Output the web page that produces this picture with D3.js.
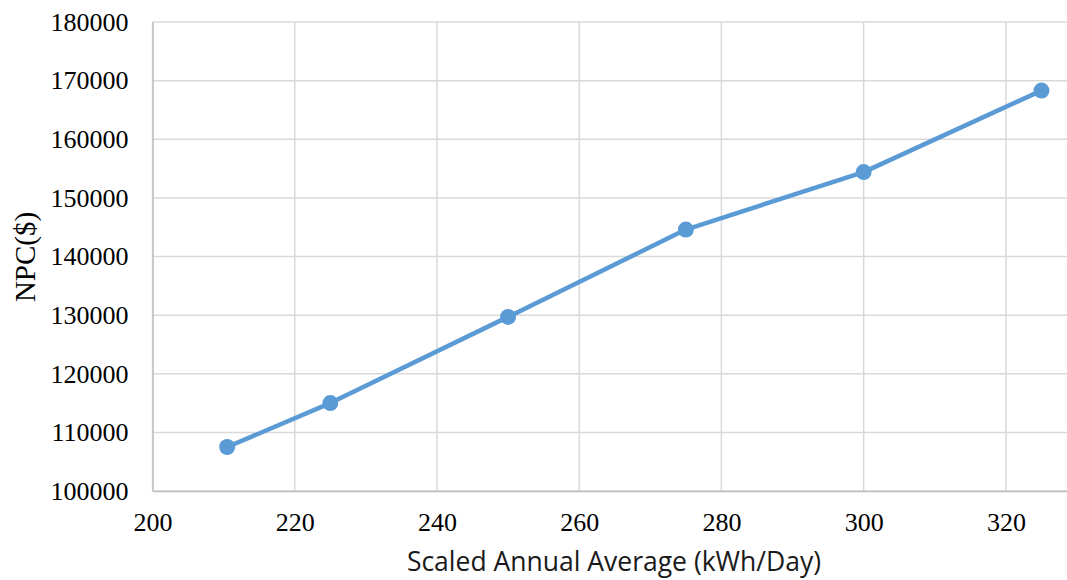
<!DOCTYPE html>
<html>
<head>
<meta charset="utf-8">
<script src="https://cdn.jsdelivr.net/npm/d3@7"></script>
<style>
  body { margin: 0; background: #fff; overflow: hidden; }
  .grid line { stroke: #d9d9d9; stroke-width: 1.5; }
  .tick text { font-family: "Liberation Serif", serif; font-size: 26px; fill: #000; }
</style>
</head>
<body>
<script>
// values
var loads = [210.5, 225, 250, 275, 300, 325];
var npc = [107500, 115000, 129700, 144600, 154400, 168300];
var xTicks = [200, 220, 240, 260, 280, 300, 320];
var yTicks = [100000, 110000, 120000, 130000, 140000, 150000, 160000, 170000, 180000];

var width = 1067, height = 580;
var margins = { top: 22, bottom: 89, left: 152.5, right: -10 };

var svg = d3.select("body").append("svg")
  .attr("width", width)
  .attr("height", height);

var xScale = d3.scaleLinear()
  .domain([200, 330])
  .range([margins.left, width - margins.right]);
var yScale = d3.scaleLinear()
  .domain([100000, 180000])
  .range([height - margins.bottom, margins.top]);

// gridlines
var grid = svg.append("g").attr("class", "grid");
grid.selectAll(".h").data(yTicks).enter().append("line")
  .attr("x1", xScale(200)).attr("x2", xScale(330))
  .attr("y1", function(d) { return yScale(d); })
  .attr("y2", function(d) { return yScale(d); });
grid.selectAll(".v").data(xTicks.concat([330])).enter().append("line")
  .attr("y1", yScale(100000)).attr("y2", yScale(180000))
  .attr("x1", function(d) { return xScale(d); })
  .attr("x2", function(d) { return xScale(d); });

// axes
var xAxis = svg.append("g")
  .attr("transform", "translate(0," + yScale(100000) + ")")
  .call(d3.axisBottom(xScale).tickValues(xTicks).tickSize(0).tickPadding(22));
xAxis.select(".domain").attr("stroke", "#bfbfbf").attr("stroke-width", 1.5);

var yAxis = svg.append("g")
  .attr("transform", "translate(" + xScale(200) + ",0)")
  .call(d3.axisLeft(yScale).tickValues(yTicks).tickSize(0).tickPadding(24).tickFormat(d3.format("d")));
yAxis.select(".domain").attr("stroke", "#bfbfbf").attr("stroke-width", 1.5);

// series
var line = d3.line()
  .x(function(d, i) { return xScale(loads[i]); })
  .y(function(d) { return yScale(d); });

svg.append("path")
  .datum(npc)
  .attr("fill", "none")
  .attr("stroke", "#5b9bd5")
  .attr("stroke-width", 4.5)
  .attr("stroke-linejoin", "round")
  .attr("d", line);

svg.selectAll(".pt").data(npc).enter().append("circle")
  .attr("cx", function(d, i) { return xScale(loads[i]); })
  .attr("cy", function(d) { return yScale(d); })
  .attr("r", 8)
  .attr("fill", "#5b9bd5");

// axis titles
svg.append("text")
  .attr("x", 614).attr("y", 571)
  .attr("text-anchor", "middle")
  .style("font-family", "'Open Sans', sans-serif")
  .style("font-size", "26.5px")
  .style("fill", "#1a1a1a")
  .text("Scaled Annual Average (kWh/Day)");

svg.append("text")
  .attr("transform", "translate(35,257) rotate(-90)")
  .attr("text-anchor", "middle")
  .style("font-family", "'Liberation Serif', serif")
  .style("font-size", "29px")
  .style("fill", "#000")
  .text("NPC($)");
</script>
</body>
</html>
